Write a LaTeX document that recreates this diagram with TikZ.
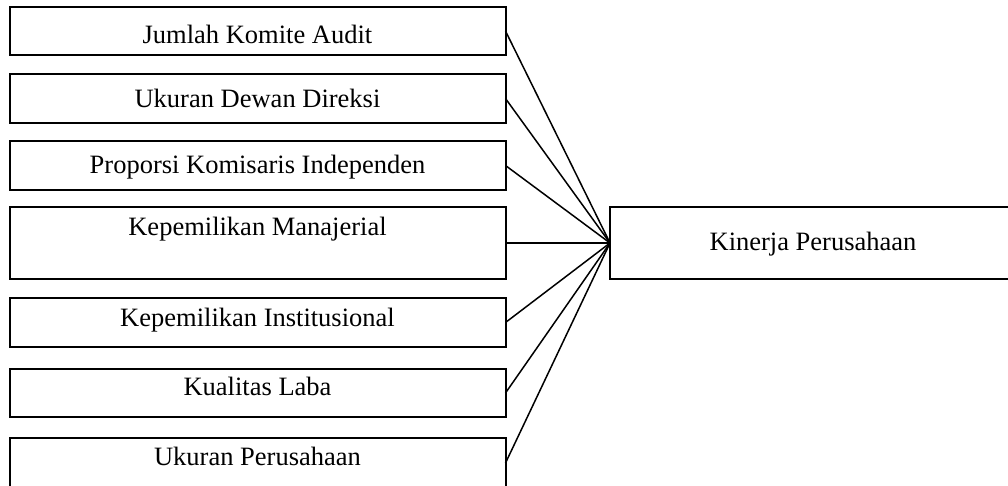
\documentclass[tikz,border=0pt]{standalone}
\usepackage{fontspec}
\setmainfont{Liberation Serif}
\begin{document}
\begin{tikzpicture}[x=1pt,y=-1pt,
  box/.style={draw=black, line width=2pt, fill=white, rectangle, inner sep=0pt, outer sep=0pt, minimum width=496pt},
  bigbox/.style={draw=black, line width=2pt, fill=white, rectangle, inner sep=0pt, outer sep=0pt, minimum width=440pt, minimum height=72pt},
  lbl/.style={anchor=base, inner sep=0pt, font=\fontsize{26.5}{30}\selectfont},
  conn/.style={draw=black, line width=1.5pt}
]
\useasboundingbox (0,0) rectangle (1008,485);
\clip (0,0) rectangle (1008,485);
\fill[white] (0,0) rectangle (1008,485);

\node[box, minimum height=48pt] (b1) at (257.5,31) {};
\node[box, minimum height=49pt] (b2) at (257.5,98.5) {};
\node[box, minimum height=49pt] (b3) at (257.5,165.5) {};
\node[box, minimum height=72pt] (b4) at (257.5,243) {};
\node[box, minimum height=49pt] (b5) at (257.5,322.5) {};
\node[box, minimum height=48pt] (b6) at (257.5,393) {};
\node[box, minimum height=54pt] (b7) at (257.5,465) {};
\node[bigbox] (kp) at (830,243) {};

\node[lbl] (t1) at (257.5,43.3) {Jumlah Komite Audit};
\node[lbl] (t2) at (257.5,107.3) {Ukuran Dewan Direksi};
\node[lbl] (t3) at (257.5,173.3) {Proporsi Komisaris Independen};
\node[lbl] (t4) at (257.5,235) {Kepemilikan Manajerial};
\node[lbl] (t5) at (257.5,326) {Kepemilikan Institusional};
\node[lbl] (t6) at (257.5,395) {Kualitas Laba};
\node[lbl] (t7) at (257.5,465) {Ukuran Perusahaan};
\node[lbl] (tk) at (813,250) {Kinerja Perusahaan};

\coordinate (e7) at (b7.east |- 0,463);
\foreach \b in {b1,b2,b3,b4,b5,b6}
  \draw[conn] (\b.east) -- (kp.west);
\draw[conn] (e7) -- (kp.west);
\end{tikzpicture}
\end{document}
